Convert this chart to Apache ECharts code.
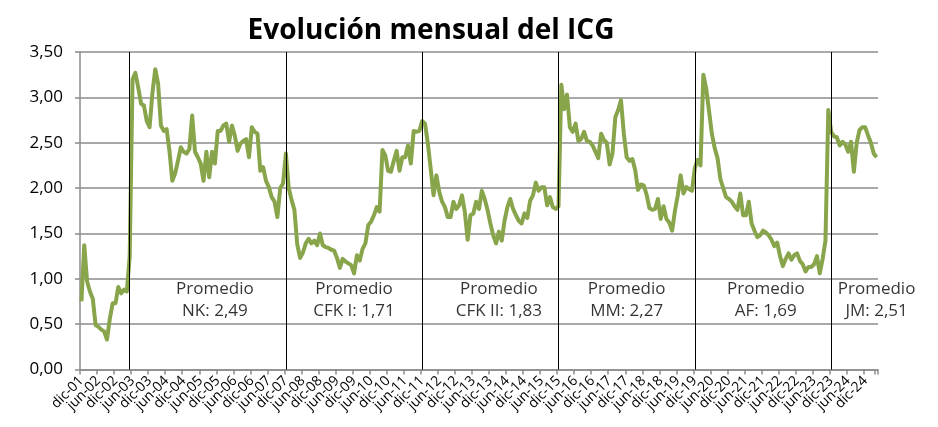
<!DOCTYPE html>
<html>
<head>
<meta charset="utf-8">
<script src="https://cdn.jsdelivr.net/npm/echarts@6/dist/echarts.min.js"></script>
<style>
  html, body { margin: 0; padding: 0; background: #ffffff; }
  #chart { width: 938px; height: 427px; }
</style>
</head>
<body>
<div id="chart"></div>
<script>
// Spanish month abbreviations used for the category labels (dic-01 ... abr-25)
const monthNames = ['ene','feb','mar','abr','may','jun','jul','ago','sep','oct','nov','dic'];
const startYear = 2001;
const startMonth = 11; // dic
const labelEvery = 6;  // one axis label every 6 months

// Monthly ICG values (dic-01 .. abr-25)
const icgValues = [
  0.75,1.37,0.97,0.86,0.78,0.49,0.47,0.44,0.42,0.33,0.56,0.73,
  0.73,0.91,0.84,0.88,0.86,1.25,3.20,3.27,3.11,2.93,2.91,2.74,
  2.67,3.05,3.31,3.15,2.69,2.63,2.65,2.41,2.08,2.16,2.30,2.45,
  2.40,2.38,2.43,2.80,2.40,2.34,2.27,2.08,2.40,2.12,2.40,2.27,
  2.63,2.63,2.69,2.71,2.51,2.69,2.58,2.41,2.49,2.52,2.54,2.34,
  2.67,2.62,2.60,2.19,2.23,2.08,2.01,1.90,1.85,1.68,2.00,2.05,
  2.38,2.00,1.87,1.76,1.38,1.23,1.29,1.39,1.44,1.39,1.42,1.37,
  1.50,1.37,1.35,1.34,1.32,1.31,1.23,1.12,1.22,1.19,1.17,1.15,
  1.06,1.26,1.20,1.33,1.39,1.59,1.63,1.70,1.79,1.74,2.42,2.36,
  2.19,2.18,2.30,2.41,2.19,2.34,2.34,2.47,2.27,2.63,2.62,2.63,
  2.74,2.71,2.49,2.21,1.92,2.14,1.96,1.85,1.79,1.68,1.68,1.85,
  1.77,1.81,1.92,1.74,1.43,1.70,1.72,1.85,1.77,1.97,1.88,1.76,
  1.61,1.48,1.39,1.52,1.42,1.64,1.79,1.88,1.77,1.70,1.64,1.61,
  1.72,1.67,1.86,1.92,2.06,1.97,2.01,2.01,1.81,1.90,1.79,1.77,
  1.80,3.14,2.87,3.03,2.67,2.62,2.71,2.52,2.54,2.62,2.52,2.51,
  2.47,2.40,2.33,2.60,2.53,2.50,2.26,2.38,2.78,2.86,2.97,2.60,
  2.34,2.30,2.32,2.20,1.98,2.04,2.03,1.93,1.78,1.76,1.77,1.88,
  1.66,1.80,1.66,1.62,1.53,1.75,1.92,2.14,1.94,2.01,1.99,1.97,
  2.22,2.31,2.25,3.25,3.10,2.85,2.60,2.44,2.33,2.10,2.00,1.90,
  1.88,1.85,1.80,1.76,1.94,1.70,1.70,1.85,1.61,1.53,1.46,1.48,
  1.53,1.51,1.48,1.43,1.36,1.40,1.25,1.14,1.22,1.28,1.21,1.26,
  1.28,1.20,1.16,1.08,1.13,1.13,1.16,1.25,1.06,1.22,1.42,2.86,
  2.62,2.57,2.56,2.47,2.51,2.48,2.40,2.51,2.18,2.50,2.64,2.67,
  2.67,2.58,2.50,2.38,2.34
];

// Government start months (vertical separators)
const periodStarts = ['may-03','dic-07','dic-11','dic-15','dic-19','dic-23'];

// Average annotations and the category each one is centred on
const avgTexts = ['NK: 2,49','CFK I: 1,71','CFK II: 1,83','MM: 2,27','AF: 1,69','JM: 2,51'];
const avgCats = ['nov-05','dic-09','mar-14','dic-17','ene-22','abr-25'];
const avgLevel = 0.765;

const yTicks = { min: 0, max: 3.5, interval: 0.5 };

const categories = [];
for (let k = 0; k < icgValues.length; k++) {
  const t = startMonth + k;
  const m = t % 12;
  const y = startYear + Math.floor(t / 12);
  categories.push(monthNames[m] + '-' + String(y % 100).padStart(2, '0'));
}

const FONT = "'Open Sans', 'Noto Sans', sans-serif";
const chart = echarts.init(document.getElementById('chart'), null, { renderer: 'canvas' });

chart.setOption({
  animation: false,
  backgroundColor: '#ffffff',
  graphic: [{
    type: 'text',
    x: 431, y: 31,
    style: {
      text: 'Evolución mensual del ICG',
      font: "bold 28px " + FONT,
      fill: '#000000',
      textAlign: 'center',
      textVerticalAlign: 'middle'
    }
  }],
  grid: { left: 80, right: 60, top: 52, bottom: 57.5, containLabel: false },
  xAxis: {
    type: 'category',
    data: categories,
    boundaryGap: true,
    axisLine: { show: true, lineStyle: { color: '#8c8c8c', width: 1.5 } },
    axisTick: { show: true, interval: labelEvery - 1, length: 5, lineStyle: { color: '#8c8c8c', width: 1.5 } },
    axisLabel: {
      interval: 0, rotate: 45, margin: 9,
      showMinLabel: true, showMaxLabel: true, hideOverlap: false,
      fontFamily: FONT, fontSize: 14, color: '#000000',
      formatter: (v, idx) => (idx % labelEvery === 0 ? v : '')
    },
    splitLine: { show: false }
  },
  yAxis: {
    type: 'value',
    min: yTicks.min, max: yTicks.max, interval: yTicks.interval,
    axisLine: { show: true, lineStyle: { color: '#8c8c8c', width: 1.5 } },
    axisTick: { show: true, length: 5, lineStyle: { color: '#8c8c8c', width: 1.5 } },
    axisLabel: {
      margin: 17, fontFamily: FONT, fontSize: 17, color: '#000000',
      formatter: v => v.toFixed(2).replace('.', ',')
    },
    splitLine: { show: true, lineStyle: { color: '#8c8c8c', width: 1.5 } }
  },
  series: [
    {
      type: 'line',
      data: icgValues,
      showSymbol: false,
      symbol: 'none',
      lineStyle: { color: '#88A54B', width: 4, join: 'round' },
      itemStyle: { color: '#88A54B' },
      z: 3,
      markLine: {
        silent: true,
        symbol: ['none', 'none'],
        label: { show: false },
        lineStyle: { color: '#000000', width: 1, type: 'solid' },
        data: periodStarts.map(c => ({ xAxis: c }))
      }
    },
    {
      type: 'scatter',
      symbolSize: 0,
      silent: true,
      z: 4,
      data: avgCats.map((c, i) => ({ value: [c, avgLevel], name: avgTexts[i] })),
      label: {
        show: true,
        position: 'inside',
        fontFamily: FONT, fontSize: 17, lineHeight: 22,
        color: '#000000', align: 'center',
        formatter: p => 'Promedio\n' + p.name
      }
    }
  ]
});
</script>
</body>
</html>
